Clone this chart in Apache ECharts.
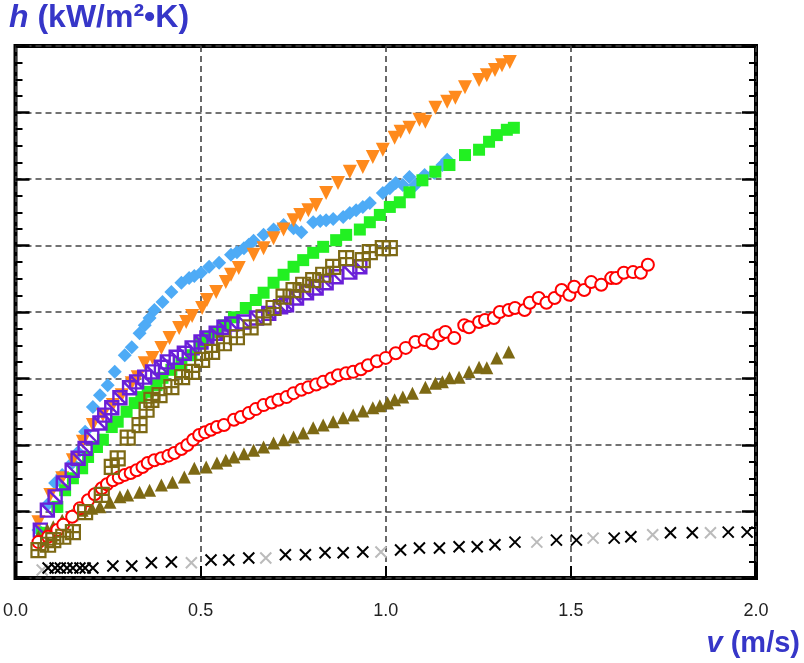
<!DOCTYPE html>
<html>
<head>
<meta charset="utf-8">
<script src="https://cdn.jsdelivr.net/npm/echarts/dist/echarts.min.js"></script>
<style>
  html, body { margin: 0; padding: 0; background: #fff; }
  #container { width: 804px; height: 663px; }
</style>
</head>
<body>
<div id="container"></div>
<script>
// axis ticks
const xTicks = [0, 0.5, 1.0, 1.5, 2.0];
const yMin = 0, yMax = 8;

// data: [v (m/s), h]
const blueDiamond = [
  [0.062,0.72],[0.086,1.10],[0.107,1.43],[0.126,1.55],[0.153,1.73],[0.169,1.89],[0.188,2.20],
  [0.209,2.57],[0.228,2.75],[0.249,2.90],[0.268,3.10],[0.295,3.35],[0.314,3.47],[0.335,3.68],
  [0.349,3.80],[0.362,3.91],[0.375,4.03],[0.397,4.15],[0.421,4.30],[0.448,4.44],[0.469,4.51],
  [0.483,4.54],[0.501,4.59],[0.523,4.68],[0.550,4.74],[0.582,4.86],[0.598,4.90],[0.617,4.96],
  [0.630,5.01],[0.643,5.07],[0.670,5.16],[0.697,5.24],[0.724,5.31],[0.751,5.26],[0.772,5.20],
  [0.804,5.35],[0.823,5.37],[0.839,5.38],[0.858,5.40],[0.885,5.43],[0.903,5.49],[0.920,5.53],
  [0.938,5.58],[0.957,5.64],[0.992,5.79],[1.011,5.86],[1.027,5.94],[1.046,5.91],[1.064,6.03],
  [1.080,5.91],[1.105,6.06],[1.131,6.09],[1.153,6.21],[1.166,6.29]
];
const orangeTri = [
  [0.062,0.84],[0.094,1.25],[0.126,1.50],[0.155,1.77],[0.182,2.05],[0.209,2.30],[0.236,2.45],
  [0.263,2.60],[0.287,2.75],[0.314,2.93],[0.330,3.02],[0.349,3.23],[0.370,3.31],[0.394,3.46],
  [0.416,3.61],[0.442,3.76],[0.461,3.85],[0.477,3.94],[0.504,4.06],[0.517,4.18],[0.542,4.30],
  [0.568,4.45],[0.582,4.56],[0.603,4.66],[0.643,4.86],[0.670,4.96],[0.697,5.11],[0.724,5.24],
  [0.751,5.38],[0.769,5.46],[0.791,5.53],[0.812,5.61],[0.839,5.79],[0.871,5.94],[0.903,6.11],
  [0.938,6.18],[0.965,6.33],[0.992,6.44],[1.024,6.62],[1.040,6.71],[1.064,6.77],[1.091,6.89],
  [1.107,6.86],[1.134,7.07],[1.166,7.16],[1.188,7.22],[1.214,7.38],[1.252,7.49],[1.273,7.56],
  [1.295,7.64],[1.314,7.71],[1.335,7.76]
];
const greenSquare = [
  [0.072,0.68],[0.113,1.07],[0.134,1.32],[0.155,1.50],[0.180,1.65],[0.196,1.82],[0.220,1.97],
  [0.236,2.08],[0.260,2.27],[0.276,2.35],[0.300,2.50],[0.322,2.63],[0.340,2.72],[0.357,2.80],
  [0.381,2.90],[0.397,3.01],[0.421,3.13],[0.448,3.23],[0.475,3.35],[0.501,3.53],[0.517,3.62],
  [0.542,3.70],[0.563,3.80],[0.590,3.92],[0.622,4.06],[0.649,4.18],[0.670,4.29],[0.697,4.44],
  [0.724,4.56],[0.751,4.68],[0.777,4.78],[0.804,4.89],[0.831,4.98],[0.866,5.08],[0.893,5.16],
  [0.930,5.24],[0.957,5.35],[0.984,5.46],[1.011,5.58],[1.038,5.65],[1.064,5.80],[1.099,5.98],
  [1.134,6.11],[1.172,6.21],[1.214,6.36],[1.252,6.44],[1.279,6.56],[1.300,6.66],[1.327,6.74],
  [1.346,6.77]
];
const purpleBox = [
  [0.067,0.72],[0.086,1.02],[0.107,1.22],[0.129,1.43],[0.153,1.62],[0.169,1.80],[0.188,1.95],
  [0.206,2.12],[0.228,2.33],[0.241,2.45],[0.260,2.56],[0.282,2.71],[0.308,2.86],[0.327,2.95],
  [0.349,3.02],[0.370,3.10],[0.394,3.17],[0.410,3.25],[0.434,3.32],[0.456,3.38],[0.477,3.46],
  [0.501,3.55],[0.517,3.61],[0.542,3.68],[0.563,3.77],[0.584,3.82],[0.617,3.85],[0.651,3.91],
  [0.684,3.98],[0.716,4.08],[0.732,4.11],[0.759,4.21],[0.786,4.29],[0.812,4.36],[0.839,4.44],
  [0.866,4.53],[0.903,4.60],[0.930,4.68]
];
const oliveBox = [
  [0.062,0.42],[0.088,0.50],[0.102,0.57],[0.129,0.62],[0.155,0.69],[0.188,0.99],[0.233,1.25],
  [0.260,1.67],[0.276,1.80],[0.303,2.11],[0.335,2.30],[0.354,2.53],[0.367,2.68],[0.389,2.75],
  [0.421,2.87],[0.450,3.02],[0.477,3.10],[0.504,3.28],[0.531,3.40],[0.563,3.53],[0.598,3.62],
  [0.635,3.77],[0.670,3.92],[0.697,4.06],[0.724,4.23],[0.751,4.33],[0.777,4.41],[0.804,4.48],
  [0.831,4.56],[0.858,4.68],[0.893,4.81],[0.938,4.78],[0.957,4.90],[0.992,4.96],[1.011,4.96]
];
const redCircle = [
  [0.062,0.54],[0.088,0.62],[0.113,0.72],[0.129,0.80],[0.153,0.92],[0.174,1.05],[0.196,1.17],
  [0.214,1.26],[0.233,1.35],[0.247,1.41],[0.263,1.47],[0.279,1.51],[0.295,1.55],[0.311,1.58],
  [0.327,1.62],[0.343,1.67],[0.357,1.73],[0.375,1.77],[0.394,1.80],[0.413,1.84],[0.429,1.88],
  [0.448,1.94],[0.464,2.00],[0.480,2.08],[0.496,2.15],[0.512,2.19],[0.528,2.23],[0.544,2.27],
  [0.563,2.30],[0.590,2.38],[0.609,2.42],[0.630,2.48],[0.649,2.54],[0.670,2.60],[0.692,2.64],
  [0.710,2.68],[0.732,2.72],[0.751,2.78],[0.772,2.83],[0.791,2.87],[0.812,2.91],[0.831,2.95],
  [0.853,3.00],[0.871,3.05],[0.893,3.08],[0.912,3.10],[0.933,3.14],[0.952,3.20],[0.976,3.26],
  [1.000,3.31],[1.027,3.38],[1.054,3.46],[1.080,3.55],[1.105,3.58],[1.126,3.53],[1.145,3.65],
  [1.161,3.70],[1.185,3.61],[1.212,3.80],[1.225,3.77],[1.252,3.85],[1.268,3.88],[1.292,3.91],
  [1.308,4.00],[1.332,4.03],[1.349,4.06],[1.375,4.03],[1.389,4.14],[1.413,4.21],[1.434,4.14],
  [1.456,4.21],[1.475,4.33],[1.496,4.26],[1.509,4.38],[1.536,4.33],[1.555,4.45],[1.582,4.41],
  [1.609,4.51],[1.622,4.51],[1.643,4.59],[1.668,4.60],[1.689,4.59],[1.708,4.71]
];
const oliveTri = [
  [0.062,0.62],[0.086,0.72],[0.102,0.77],[0.126,0.87],[0.153,0.95],[0.180,1.02],[0.206,1.05],
  [0.228,1.07],[0.255,1.14],[0.282,1.22],[0.303,1.25],[0.335,1.29],[0.362,1.32],[0.394,1.40],
  [0.424,1.44],[0.456,1.52],[0.483,1.65],[0.515,1.67],[0.544,1.73],[0.568,1.77],[0.590,1.82],
  [0.617,1.87],[0.643,1.92],[0.670,1.97],[0.697,2.03],[0.724,2.08],[0.751,2.12],[0.777,2.18],
  [0.804,2.26],[0.831,2.30],[0.858,2.35],[0.885,2.41],[0.912,2.45],[0.938,2.51],[0.965,2.56],
  [0.984,2.59],[1.005,2.63],[1.024,2.68],[1.046,2.72],[1.072,2.78],[1.107,2.87],[1.134,2.93],
  [1.153,2.95],[1.172,3.01],[1.198,3.02],[1.225,3.10],[1.252,3.17],[1.273,3.16],[1.300,3.31],
  [1.332,3.40]
];
const blackX = [
  [0.072,0.12],[0.088,0.15],[0.107,0.15],[0.121,0.15],[0.139,0.15],[0.155,0.15],[0.174,0.15],
  [0.188,0.15],[0.209,0.15],[0.263,0.18],[0.314,0.18],[0.367,0.23],[0.421,0.24],[0.475,0.23],
  [0.528,0.27],[0.576,0.27],[0.630,0.30],[0.676,0.30],[0.729,0.35],[0.783,0.35],[0.836,0.38],
  [0.885,0.38],[0.938,0.39],[0.987,0.39],[1.040,0.42],[1.091,0.45],[1.145,0.45],[1.198,0.47],
  [1.247,0.47],[1.295,0.50],[1.349,0.54],[1.408,0.54],[1.461,0.57],[1.515,0.57],[1.560,0.60],
  [1.617,0.60],[1.662,0.62],[1.721,0.65],[1.769,0.68],[1.828,0.68],[1.877,0.68],[1.925,0.69],
  [1.976,0.69]
];
// indices of the x marks printed faint grey
const faintX = [0, 13, 17, 23, 31, 34, 37, 40];

const olive = '#7d6914';
const font = 'Liberation Sans, Arial, sans-serif';

let myChart = echarts.init(document.getElementById('container'));

function scatter(name, data, symbol, size, style, extra) {
  return Object.assign({
    name: name,
    type: 'scatter',
    data: data,
    symbol: symbol,
    symbolSize: size,
    itemStyle: Object.assign({ opacity: 1 }, style),
    silent: true
  }, extra || {});
}

let option = {
  animation: false,
  grid: {
    left: 10, right: 48, top: 46, bottom: 85,
    show: true, borderColor: '#000', borderWidth: 4, backgroundColor: 'transparent'
  },
  xAxis: {
    type: 'value',
    min: xTicks[0], max: xTicks[xTicks.length - 1], interval: 0.5,
    axisLine: { show: false },
    axisTick: { show: true, inside: true, length: 12, lineStyle: { color: '#000', width: 2 } },
    splitLine: { show: true, lineStyle: { type: [6, 4], color: '#444', width: 1.6 } },
    axisLabel: {
      margin: 24, fontSize: 18, color: '#222', fontFamily: font,
      showMinLabel: true, showMaxLabel: true,
      formatter: function (v) { return v.toFixed(1); }
    }
  },
  yAxis: [
    {
      type: 'value', min: yMin, max: yMax, interval: 1, position: 'left',
      axisLine: { show: false },
      axisLabel: { show: false },
      axisTick: { show: true, inside: true, length: 14, lineStyle: { color: '#000', width: 2.5 } },
      minorTick: { show: true, splitNumber: 4, length: 7, lineStyle: { color: '#000', width: 2 } },
      splitLine: { show: true, lineStyle: { type: [6, 4], color: '#444', width: 1.6 } }
    },
    {
      type: 'value', min: yMin, max: yMax, interval: 1, position: 'right',
      axisLine: { show: false },
      axisLabel: { show: false },
      axisTick: { show: true, inside: true, length: 14, lineStyle: { color: '#000', width: 2.5 } },
      minorTick: { show: true, splitNumber: 4, length: 7, lineStyle: { color: '#000', width: 2 } },
      splitLine: { show: false }
    }
  ],
  graphic: [
    {
      type: 'text', left: 9, top: 2,
      style: {
        text: '{i|h} (kW/m²•K)',
        font: 'bold 32px ' + font,
        fill: '#3636c8',
        rich: { i: { fontStyle: 'italic', fontWeight: 'bold', fontSize: 32, fontFamily: font, fill: '#3636c8' } }
      }
    },
    {
      type: 'text', right: 4, top: 629,
      style: {
        text: '{i|v} (m/s)',
        font: 'bold 29px ' + font,
        fill: '#3636c8',
        rich: { i: { fontStyle: 'italic', fontWeight: 'bold', fontSize: 29, fontFamily: font, fill: '#3636c8' } }
      }
    }
  ],
  series: [
    scatter('x', blackX, 'emptyPath://M0,0L10,10M10,0L0,10', 11, {
      color: function (p) { return faintX.indexOf(p.dataIndex) >= 0 ? '#bbb' : '#000'; },
      borderWidth: 2.6
    }),
    scatter('diamond', blueDiamond, 'diamond', 14, { color: '#4eabf6' }),
    scatter('down', orangeTri, 'triangle', 14, { color: '#ff8a1c' }, { symbolRotate: 180 }),
    scatter('square', greenSquare, 'rect', 12, { color: '#22f022' }),
    scatter('box', purpleBox, 'path://M0,0H10V10H0Z M0,0L10,10', 13,
      { color: 'rgba(255,255,255,0)', borderColor: '#6a1fd8', borderWidth: 2.4 }),
    scatter('tri', oliveTri, 'triangle', 13, { color: olive }),
    scatter('circle', redCircle, 'emptyCircle', 12, { color: '#ff0000', borderWidth: 3 }),
    scatter('grid', oliveBox, 'path://M0,0H10V10H0Z M5,0V10 M0,5H10', 14,
      { color: 'rgba(255,255,255,0)', borderColor: olive, borderWidth: 2.2 })
  ]
};

myChart.setOption(option);
</script>
</body>
</html>
